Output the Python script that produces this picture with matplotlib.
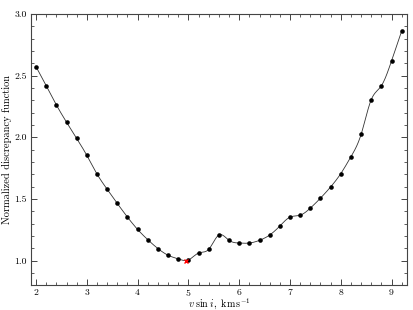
import numpy as np
import matplotlib
matplotlib.use("Agg")
import matplotlib.pyplot as plt
from matplotlib.ticker import MultipleLocator

vsini = [2.0, 2.2, 2.4, 2.6, 2.8, 3.0, 3.2, 3.4, 3.6, 3.8, 4.0, 4.2, 4.4, 4.6, 4.8,
         5.0, 5.2, 5.4, 5.6, 5.8, 6.0, 6.2, 6.4, 6.6, 6.8, 7.0, 7.2, 7.4, 7.6, 7.8,
         8.0, 8.2, 8.4, 8.6, 8.8, 9.0, 9.2]
discrepancy = [2.572, 2.418, 2.262, 2.122, 1.990, 1.853, 1.702, 1.578, 1.463, 1.352,
               1.252, 1.169, 1.097, 1.043, 1.013, 1.005, 1.061, 1.091, 1.207, 1.164,
               1.142, 1.142, 1.164, 1.207, 1.280, 1.352, 1.368, 1.425, 1.506, 1.597,
               1.705, 1.842, 2.023, 2.305, 2.418, 2.620, 2.863]
best_x = [4.95]
best_y = [1.0]


def natural_spline(x, y, xs):
    x = np.asarray(x, float); y = np.asarray(y, float)
    n = len(x)
    h = np.diff(x)
    A = np.zeros((n, n)); b = np.zeros(n)
    A[0, 0] = 1; A[-1, -1] = 1
    for i in range(1, n - 1):
        A[i, i - 1] = h[i - 1]
        A[i, i] = 2 * (h[i - 1] + h[i])
        A[i, i + 1] = h[i]
        b[i] = 3 * ((y[i + 1] - y[i]) / h[i] - (y[i] - y[i - 1]) / h[i - 1])
    c = np.linalg.solve(A, b)
    bb = (y[1:] - y[:-1]) / h - h * (2 * c[:-1] + c[1:]) / 3
    d = (c[1:] - c[:-1]) / (3 * h)
    idx = np.clip(np.searchsorted(x, xs) - 1, 0, n - 2)
    dx = xs - x[idx]
    return y[idx] + bb[idx] * dx + c[idx] * dx ** 2 + d[idx] * dx ** 3


plt.rcParams['font.family'] = 'serif'
plt.rcParams['font.serif'] = ['cmr10', 'DejaVu Serif']
plt.rcParams['mathtext.fontset'] = 'cm'
plt.rcParams['axes.formatter.use_mathtext'] = True

fig = plt.figure(figsize=(4.13, 3.10), dpi=100)
ax = fig.add_axes([0.075, 0.08, 0.91, 0.875])

xs = np.linspace(vsini[0], vsini[-1], 600)
ax.plot(xs, natural_spline(vsini, discrepancy, xs), color='#333333', lw=0.6)
ax.plot(vsini, discrepancy, 'o', color='black', ms=3.3, mew=0)
ax.plot(best_x, best_y, 'x', color='red', ms=3.5, mew=1.0)

ax.set_xlim(1.9, 9.3)
ax.set_ylim(0.8, 3.0)
ax.xaxis.set_major_locator(MultipleLocator(1))
ax.xaxis.set_minor_locator(MultipleLocator(0.2))
ax.yaxis.set_major_locator(MultipleLocator(0.5))
ax.yaxis.set_minor_locator(MultipleLocator(0.1))
ax.yaxis.set_major_formatter(matplotlib.ticker.FormatStrFormatter('%.1f'))
ax.tick_params(which='both', direction='in', top=True, right=True, labelsize=7,
               color='#444444')
ax.tick_params(which='major', length=4, width=0.7)
ax.tick_params(which='minor', length=2, width=0.6)
ax.tick_params(axis='x', which='major', pad=1)
ax.tick_params(axis='y', which='major', pad=3)
for s in ax.spines.values():
    s.set_linewidth(0.8)
    s.set_color('#444444')

fig.text(0.53, 0.009, r'$v\;\mathrm{sin}\;i,\ \mathrm{km\,s^{-1}}$', fontsize=7.2,
         ha='center', va='baseline')
ax.set_ylabel('Normalized discrepancy function', fontsize=7.5, labelpad=1.5)

fig.savefig('out.png', dpi=100)
